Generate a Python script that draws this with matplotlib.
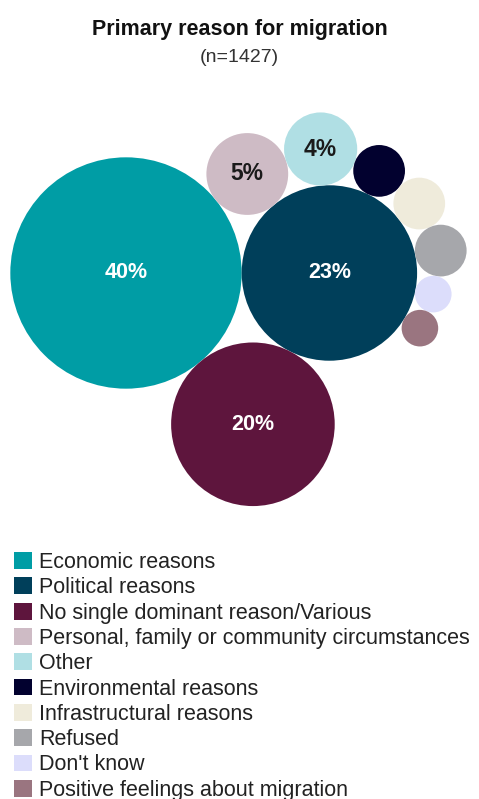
import numpy as np
import matplotlib
matplotlib.use("Agg")
import matplotlib.pyplot as plt
from matplotlib.patches import Circle, Patch

plt.rcParams["font.family"] = ["Liberation Sans", "DejaVu Sans"]

# --- Data ---
reasons = [
    "Economic reasons",
    "Political reasons",
    "No single dominant reason/Various",
    "Personal, family or community circumstances",
    "Other",
    "Environmental reasons",
    "Infrastructural reasons",
    "Refused",
    "Don't know",
    "Positive feelings about migration",
]
shares = [40, 23, 20, 5, 4, 2, 2, 2, 1, 1]
colors = [
    "#009DA5", "#003F5A", "#5E153D", "#CEBBC5", "#B0DFE4",
    "#02012F", "#EFEBDB", "#A6A7AB", "#DCDDFB", "#9A7580",
]
text_colors = ["white", "white", "white", "#1a1a1a", "#1a1a1a",
               "white", "#1a1a1a", "#1a1a1a", "#1a1a1a", "white"]


def tangent(a, b, r, side):
    """Centre of a circle of radius r touching circles a and b."""
    (xa, ya, ra), (xb, yb, rb) = a, b
    dx, dy = xb - xa, yb - ya
    d = np.hypot(dx, dy)
    da, db = ra + r, rb + r
    t = (da ** 2 - db ** 2 + d ** 2) / (2 * d)
    h = np.sqrt(max(da ** 2 - t ** 2, 0.0))
    ux, uy = dx / d, dy / d
    return (xa + t * ux - side * h * uy, ya + t * uy + side * h * ux, r)


# --- Pack bubbles (area proportional to share) ---
radii = np.sqrt(shares)
circles = [(0.0, 0.0, radii[0]), (radii[0] + radii[1], 0.0, radii[1])]
circles.append(tangent(circles[0], circles[1], radii[2], -1))
circles.append(tangent(circles[0], circles[1], radii[3], +1))
for r in radii[4:]:
    circles.append(tangent(circles[1], circles[-1], r, -1))

W, H = 479, 799
fig = plt.figure(figsize=(W / 100, H / 100), dpi=100)
ax = fig.add_axes([0, 0, 1, 1])
ax.axis("off")

px = 18.29          # pixels per unit radius
cx, cy = 126, 273   # where the largest bubble sits (pixels from top-left)
ax.set_xlim(-cx / px, (W - cx) / px)
ax.set_ylim(-(H - cy) / px, cy / px)

for (x, y, r), c, tc, v in zip(circles, colors, text_colors, shares):
    ax.add_patch(Circle((x, y), r, facecolor=c, edgecolor="none"))
    if v >= 4:
        ax.text(x, y, f"{v}%", ha="center", va="center", color=tc,
                fontsize=15.5 if tc == "white" else 16.5, fontweight="bold")

# --- Titles ---
fig.text(0.5, 1 - 29 / H, "Primary reason for migration", ha="center", va="center",
         fontsize=15.5, fontweight="bold", color="#111111")
fig.text(0.5, 1 - 58 / H, "(n=1427)", ha="center", va="center",
         fontsize=14, color="#333333")

# --- Legend ---
handles = [Patch(facecolor=c, edgecolor="none") for c in colors]
fig.legend(handles, reasons, loc="upper left", bbox_to_anchor=(14 / W, 1 - 552 / H),
           frameon=False, fontsize=15.5, borderpad=0, borderaxespad=0,
           handlelength=0.82, handleheight=0.82, handletextpad=0.33,
           labelspacing=0.2, labelcolor="#222222")

fig.savefig("out.png", dpi=100)
